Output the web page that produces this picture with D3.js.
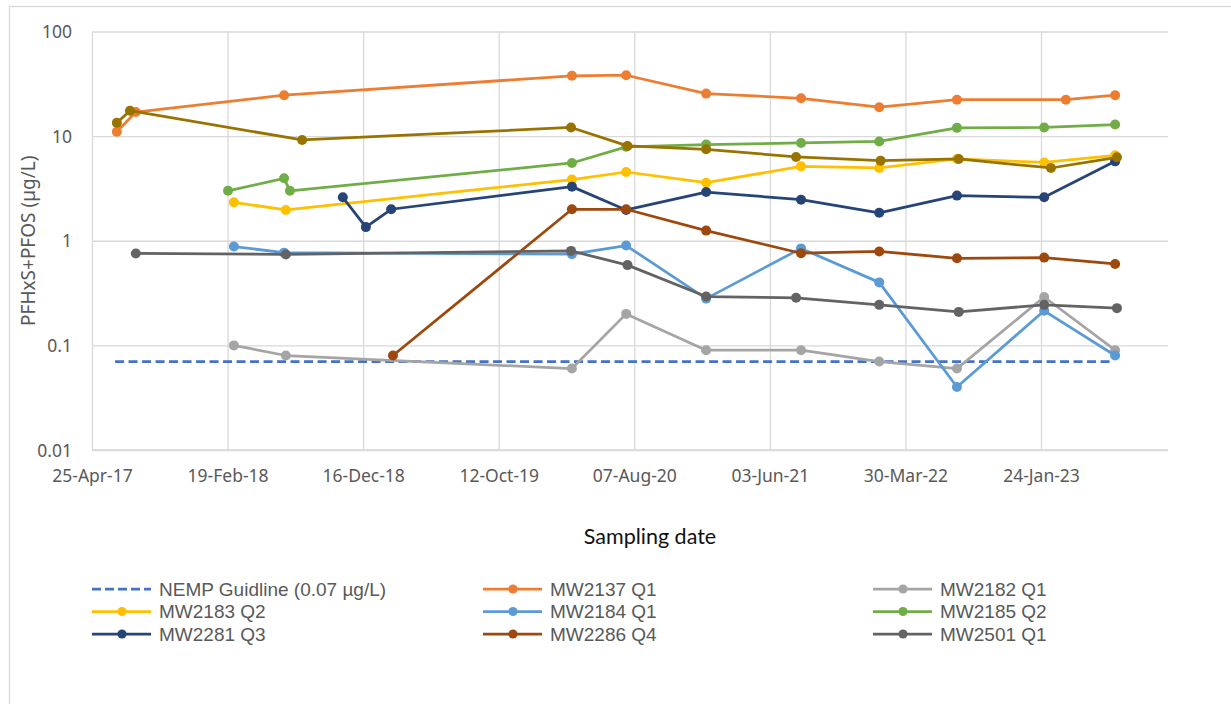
<!DOCTYPE html>
<html>
<head>
<meta charset="utf-8">
<script src="https://cdn.jsdelivr.net/npm/d3@7"></script>
<style>
  html, body { margin: 0; padding: 0; background: #fff; }
  svg { display: block; }
</style>
</head>
<body>
<svg id="chart" width="1231" height="704"></svg>
<script>
// ---- axis labels -------------------------------------------------------
const xTickLabels = ["25-Apr-17", "19-Feb-18", "16-Dec-18", "12-Oct-19",
                     "07-Aug-20", "03-Jun-21", "30-Mar-22", "24-Jan-23"];
const yTickLabels = ["0.01", "0.1", "1", "10", "100"];
const xDomain = ["2017-04-25", "2023-11-01"];

// ---- guideline ---------------------------------------------------------
const nempDates  = ["2017-06-15", "2023-07-01"];
const nempValues = [0.07, 0.07];

// ---- monitoring wells (PFHxS+PFOS, µg/L) -------------------------------
const mw2137Dates  = ["2017-06-19", "2017-07-31", "2018-06-24", "2020-03-22", "2020-07-20",
                      "2021-01-13", "2021-08-11", "2022-01-31", "2022-07-22", "2023-03-20", "2023-07-07"];
const mw2137Values = [11.0, 17.0, 24.6, 37.7, 38.2, 25.5, 23.0, 18.9, 22.3, 22.3, 24.6];

const mw2182Dates  = ["2018-03-05", "2018-06-28", "2020-03-22", "2020-07-20", "2021-01-13",
                      "2021-08-11", "2022-01-31", "2022-07-22", "2023-01-31", "2023-07-07"];
const mw2182Values = [0.10, 0.08, 0.06, 0.20, 0.09, 0.09, 0.07, 0.06, 0.29, 0.09];

const mw2183Dates  = ["2018-03-05", "2018-06-28", "2020-03-22", "2020-07-20", "2021-01-13",
                      "2021-08-11", "2022-01-31", "2022-07-22", "2023-01-31", "2023-07-07"];
const mw2183Values = [2.33, 1.97, 3.84, 4.54, 3.59, 5.14, 4.96, 6.05, 5.6, 6.55];

const mw2184Dates  = ["2018-03-05", "2018-06-24", "2020-03-22", "2020-07-20", "2021-01-13",
                      "2021-08-11", "2022-01-31", "2022-07-22", "2023-01-31", "2023-07-07"];
const mw2184Values = [0.88, 0.77, 0.745, 0.90, 0.28, 0.845, 0.40, 0.04, 0.214, 0.08];

const mw2185Dates  = ["2018-02-20", "2018-06-24", "2018-07-07", "2020-03-22", "2020-07-20",
                      "2021-01-13", "2021-08-11", "2022-01-31", "2022-07-22", "2023-01-31", "2023-07-07"];
const mw2185Values = [3.0, 3.95, 3.0, 5.54, 7.9, 8.3, 8.6, 8.9, 12.0, 12.1, 12.9];

const mw2281Dates  = ["2018-11-01", "2018-12-22", "2019-02-16", "2020-03-22", "2020-07-20",
                      "2021-01-13", "2021-08-11", "2022-01-31", "2022-07-22", "2023-01-31", "2023-07-07"];
const mw2281Values = [2.6, 1.35, 2.0, 3.29, 1.97, 2.92, 2.47, 1.85, 2.7, 2.6, 5.74];

const mw2286Dates  = ["2019-02-20", "2020-03-22", "2020-07-20", "2021-01-13", "2021-08-11",
                      "2022-01-31", "2022-07-22", "2023-01-31", "2023-07-07"];
const mw2286Values = [0.08, 2.0, 2.0, 1.25, 0.76, 0.79, 0.68, 0.69, 0.60];

const mw2501Dates  = ["2017-07-31", "2018-06-28", "2020-03-20", "2020-07-23", "2021-01-13",
                      "2021-07-31", "2022-01-31", "2022-07-26", "2023-01-31", "2023-07-11"];
const mw2501Values = [0.756, 0.74, 0.80, 0.585, 0.293, 0.285, 0.244, 0.209, 0.244, 0.227];

// tenth series: plotted, but its legend entry is left out
const extraDates  = ["2017-06-19", "2017-07-18", "2018-08-03", "2020-03-20", "2020-07-23",
                     "2021-01-13", "2021-07-31", "2022-02-03", "2022-07-26", "2023-02-15", "2023-07-11"];
const extraValues = [13.4, 17.5, 9.2, 12.1, 8.06, 7.48, 6.32, 5.83, 6.05, 4.96, 6.27];

// ---- series table (drawing order = stacking order) ---------------------
const series = [
  { name: "NEMP Guidline (0.07 \u00b5g/L)", dates: nempDates,   values: nempValues,   color: "#4472C4", dashed: true },
  { name: "MW2137 Q1",                     dates: mw2137Dates, values: mw2137Values, color: "#ED7D31" },
  { name: "MW2182 Q1",                     dates: mw2182Dates, values: mw2182Values, color: "#A5A5A5" },
  { name: "MW2183 Q2",                     dates: mw2183Dates, values: mw2183Values, color: "#FFC000" },
  { name: "MW2184 Q1",                     dates: mw2184Dates, values: mw2184Values, color: "#5B9BD5" },
  { name: "MW2185 Q2",                     dates: mw2185Dates, values: mw2185Values, color: "#70AD47" },
  { name: "MW2281 Q3",                     dates: mw2281Dates, values: mw2281Values, color: "#264478" },
  { name: "MW2286 Q4",                     dates: mw2286Dates, values: mw2286Values, color: "#9E480E" },
  { name: "MW2501 Q1",                     dates: mw2501Dates, values: mw2501Values, color: "#636363" },
  { name: null,                            dates: extraDates,  values: extraValues,  color: "#997300" }
];

// ---- setup -------------------------------------------------------------
const parseDay  = d3.utcParse("%Y-%m-%d");
const parseTick = d3.utcParse("%d-%b-%y");
const fmtTick   = d3.utcFormat("%d-%b-%y");

const W = 1231, H = 704;
const plot = { left: 92, right: 1168, top: 31.5, bottom: 450 };
const gridColor = "#d9d9d9";
const labelColor = "#595959";
const uiFont = "'Noto Sans', 'DejaVu Sans', sans-serif";
const legendFont = "'Liberation Sans', Arial, sans-serif";

const x = d3.scaleUtc().domain(xDomain.map(parseDay)).range([plot.left, plot.right]);
const y = d3.scaleLog().domain([0.01, 100]).range([plot.bottom, plot.top]);

const xTicks = xTickLabels.map(parseTick);
const yTicks = yTickLabels.map(Number);

const svg = d3.select("#chart");

svg.append("rect").attr("width", W).attr("height", H).attr("fill", "#fff");
// chart frame
svg.append("rect")
  .attr("x", 9.5).attr("y", 6.5).attr("width", W).attr("height", H)
  .attr("fill", "none").attr("stroke", gridColor).attr("stroke-width", 1.3);

// ---- gridlines ---------------------------------------------------------
svg.append("g")
  .attr("transform", `translate(0,${plot.bottom})`)
  .call(d3.axisBottom(x).tickValues(xTicks).tickSize(-(plot.bottom - plot.top)).tickFormat(""))
  .call(g => g.select(".domain").remove())
  .call(g => g.selectAll("line").attr("stroke", gridColor).attr("stroke-width", 1.3));

svg.append("g")
  .attr("transform", `translate(${plot.left},0)`)
  .call(d3.axisLeft(y).tickValues(yTicks).tickSize(-(plot.right - plot.left)).tickFormat(""))
  .call(g => g.select(".domain").remove())
  .call(g => g.selectAll("line").attr("stroke", gridColor).attr("stroke-width", 1.3));

// axis lines
svg.append("line")
  .attr("x1", plot.left).attr("x2", plot.right)
  .attr("y1", plot.bottom).attr("y2", plot.bottom)
  .attr("stroke", gridColor).attr("stroke-width", 1.5);

// ---- tick labels -------------------------------------------------------
svg.append("g")
  .attr("transform", `translate(0,${plot.bottom})`)
  .call(d3.axisBottom(x).tickValues(xTicks).tickFormat(fmtTick).tickSize(0))
  .call(g => g.select(".domain").remove())
  .call(g => g.selectAll("text")
    .attr("y", 26).attr("dy", "0.35em")
    .attr("fill", labelColor)
    .style("font-family", uiFont).style("font-size", "17.5px"));

svg.append("g")
  .attr("transform", `translate(${plot.left},0)`)
  .call(d3.axisLeft(y).tickValues(yTicks).tickFormat((d, i) => yTickLabels[i]).tickSize(0).tickPadding(20))
  .call(g => g.select(".domain").remove())
  .call(g => g.selectAll("text")
    .attr("dy", "0.35em")
    .attr("fill", labelColor)
    .style("font-family", uiFont).style("font-size", "17.5px"));

// ---- axis titles -------------------------------------------------------
svg.append("text")
  .attr("transform", `translate(28,${(plot.top + plot.bottom) / 2}) rotate(-90)`)
  .attr("text-anchor", "middle").attr("dominant-baseline", "central")
  .attr("fill", labelColor)
  .style("font-family", uiFont).style("font-size", "19px")
  .text("PFHxS+PFOS (\u00b5g/L)");

svg.append("text")
  .attr("x", 650).attr("y", 536)
  .attr("text-anchor", "middle").attr("dominant-baseline", "central")
  .attr("fill", "#111")
  .style("font-family", "Lato, 'Open Sans', sans-serif").style("font-size", "21.5px")
  .text("Sampling date");

// ---- series ------------------------------------------------------------
const line = d3.line().x(d => x(d.date)).y(d => y(d.value));

series.forEach(s => {
  const pts = s.dates.map((d, i) => ({ date: parseDay(d), value: s.values[i] }));
  const g = svg.append("g");
  g.append("path")
    .datum(pts)
    .attr("d", line)
    .attr("fill", "none")
    .attr("stroke", s.color)
    .attr("stroke-width", 2.75)
    .attr("stroke-linejoin", "round")
    .attr("stroke-dasharray", s.dashed ? "9,4.5" : null);
  if (!s.dashed) {
    g.selectAll("circle")
      .data(pts)
      .join("circle")
      .attr("cx", d => x(d.date))
      .attr("cy", d => y(d.value))
      .attr("r", 5)
      .attr("fill", s.color);
  }
});

// ---- legend ------------------------------------------------------------
const legendCols = [92, 483, 873];
const legendRows = [589, 611.5, 634];
const legendItems = series.filter(s => s.name);

const legend = svg.append("g");
legendItems.forEach((s, i) => {
  const cx = legendCols[i % 3];
  const cy = legendRows[Math.floor(i / 3)];
  const item = legend.append("g");
  item.append("line")
    .attr("x1", cx).attr("x2", cx + 59)
    .attr("y1", cy).attr("y2", cy)
    .attr("stroke", s.color).attr("stroke-width", 2.75)
    .attr("stroke-dasharray", s.dashed ? "9,4" : null);
  if (!s.dashed) {
    item.append("circle")
      .attr("cx", cx + 30).attr("cy", cy).attr("r", 4.6)
      .attr("fill", s.color);
  }
  item.append("text")
    .attr("x", cx + 67).attr("y", cy)
    .attr("dominant-baseline", "central")
    .attr("fill", labelColor)
    .style("font-family", legendFont).style("font-size", "19px")
    .text(s.name);
});
</script>
</body>
</html>
